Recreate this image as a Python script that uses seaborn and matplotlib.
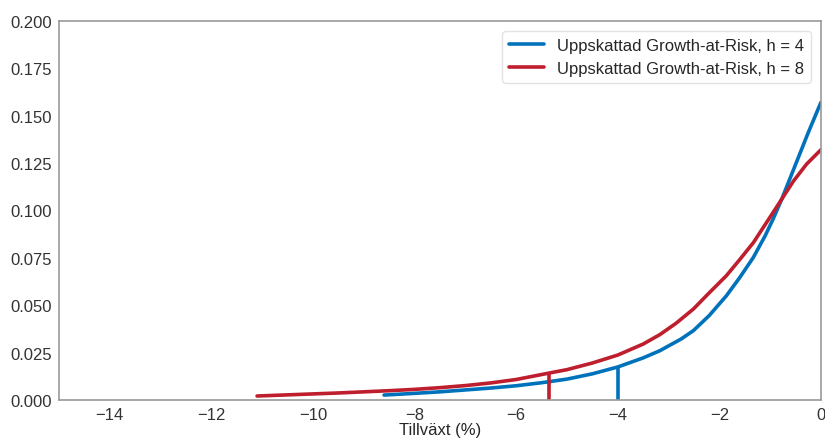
import matplotlib
matplotlib.use("Agg")
import matplotlib.pyplot as plt
import seaborn as sns
import pandas as pd

blue_x = [-8.6, -8, -7.5, -7, -6.5, -6, -5.5, -5, -4.5, -4, -3.5, -3.17, -2.75,
          -2.51, -2.2, -1.86, -1.6, -1.33, -1.1, -0.94, -0.77, -0.48, -0.25, 0]
blue_y = [0.0026, 0.0035, 0.0043, 0.0053, 0.0063, 0.0075, 0.0091, 0.0110, 0.0138,
          0.0174, 0.0222, 0.0260, 0.0322, 0.0366, 0.0445, 0.0550, 0.0645, 0.0752,
          0.0865, 0.0955, 0.1060, 0.1255, 0.1410, 0.1570]

red_x = [-11.1, -10.5, -10, -9.5, -9, -8.5, -8, -7.5, -7, -6.5, -6, -5.35, -5, -4.5,
         -4, -3.5, -3.17, -2.85, -2.51, -2.2, -1.86, -1.6, -1.33, -1.0, -0.77, -0.54,
         -0.28, 0]
red_y = [0.0021, 0.0027, 0.0032, 0.0037, 0.0043, 0.0049, 0.0056, 0.0065, 0.0076,
         0.0090, 0.0108, 0.0142, 0.0160, 0.0195, 0.0237, 0.0295, 0.0345, 0.0405,
         0.0480, 0.0565, 0.0656, 0.0740, 0.0830, 0.0965, 0.1060, 0.1155, 0.1245,
         0.1320]

var_x = [-4, -5.35]
var_y = [0.0174, 0.0142]

labels = ["Uppskattad Growth-at-Risk, h = 4", "Uppskattad Growth-at-Risk, h = 8"]
colors = ["#0072bb", "#be1e2d"]
xticks = [-14, -12, -10, -8, -6, -4, -2, 0]
yticks = [0.0, 0.025, 0.05, 0.075, 0.1, 0.125, 0.15, 0.175, 0.2]

sns.set_theme(style="white")
plt.rcParams["font.family"] = ["Liberation Sans", "DejaVu Sans"]

df = pd.concat([
    pd.DataFrame({"x": blue_x, "y": blue_y, "serie": labels[0]}),
    pd.DataFrame({"x": red_x, "y": red_y, "serie": labels[1]}),
])

fig = plt.figure(figsize=(8.25, 4.39), dpi=100)
ax = fig.add_axes([0.0715, 0.0866, 0.9235, 0.8634])
sns.lineplot(data=df, x="x", y="y", hue="serie", palette=colors, linewidth=2.6,
             ax=ax, sort=True)
for i in range(2):
    ax.vlines(var_x[i], 0, var_y[i], color=colors[i], linewidth=2.6)

ax.set_xlim(-15, 0)
ax.set_ylim(0, 0.2)
ax.set_xticks(xticks)
ax.set_xticklabels([f"\u2212{abs(t)}" if t < 0 else str(t) for t in xticks], fontsize=12)
ax.set_yticks(yticks)
ax.set_yticklabels([f"{t:.3f}" for t in yticks], fontsize=12)
ax.set_xlabel("Tillväxt (%)", fontsize=12, labelpad=0)
ax.set_ylabel("")
for s in ax.spines.values():
    s.set_color("#999999")
    s.set_linewidth(1.2)
ax.tick_params(colors="#333333", length=0, pad=5)
leg = ax.legend(loc="upper right", fontsize=12, frameon=True, handlelength=2.1,
                borderaxespad=0.6)
leg.get_frame().set_edgecolor("#dddddd")

fig.savefig("out.png", dpi=100)
